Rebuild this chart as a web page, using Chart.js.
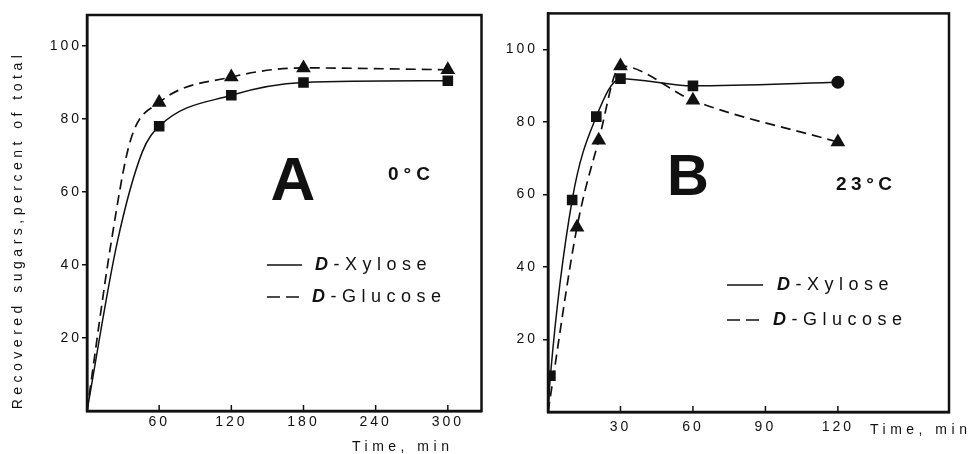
<!DOCTYPE html>
<html>
<head>
<meta charset="utf-8">
<script src="https://cdn.jsdelivr.net/npm/chart.js@4.4.0/dist/chart.umd.min.js"></script>
<style>
  body { margin: 0; background: #fff; }
  #wrapA { position: absolute; left: 0; top: 0; }
  #wrapB { position: absolute; left: 490px; top: 0; }
</style>
</head>
<body>
<div id="wrapA"><canvas id="chartA" width="490" height="454"></canvas></div>
<div id="wrapB"><canvas id="chartB" width="482" height="454"></canvas></div>
<script>
// panel A, 0 °C (unmarked entries are points)
const timeXyloseA = [0, 25, 46, 60, 120, 180, 300];
const xyloseA = [0, 46, 71, 78, 86.5, 90, 90.5];
const markXyloseA = [false, false, false, true, true, true, true];
const timeGlucoseA = [0, 20, 36, 60, 120, 180, 300];
const glucoseA = [0, 46, 74, 84.5, 91.5, 94, 93.5];
const markGlucoseA = [false, false, false, true, true, true, true];
const xTicksA = [60, 120, 180, 240, 300];

// panel B, 23 °C
const timeXyloseB = [0, 1, 10, 20, 30, 60, 120];
const xyloseB = [0, 10, 58.5, 81.5, 92, 90, 91];
const timeGlucoseB = [0, 12, 21, 30, 60, 120];
const glucoseB = [0, 51, 75, 95.5, 86, 74.5];
const xTicksB = [30, 60, 90, 120];

const yTicks = [20, 40, 60, 80, 100];

const FONT = "'Liberation Sans', Arial, sans-serif";
const INK = '#111';

function toPoints(xs, ys) {
  return xs.map((x, i) => ({ x: x, y: ys[i] }));
}

function spacedText(ctx, str, x, y, font, spacing, align, baseline) {
  ctx.save();
  ctx.font = font;
  ctx.letterSpacing = spacing + 'px';
  ctx.textAlign = align || 'left';
  ctx.textBaseline = baseline || 'alphabetic';
  ctx.fillStyle = INK;
  ctx.fillText(str, x, y);
  ctx.restore();
}

function legendRow(ctx, x0, x1, y, dashed, label, tx) {
  ctx.save();
  ctx.strokeStyle = INK;
  ctx.lineWidth = 1.6;
  ctx.setLineDash(dashed ? [13, 6] : []);
  ctx.beginPath();
  ctx.moveTo(x0, y);
  ctx.lineTo(x1, y);
  ctx.stroke();
  ctx.setLineDash([]);
  ctx.fillStyle = INK;
  ctx.textBaseline = 'middle';
  ctx.letterSpacing = '5.5px';
  ctx.font = 'italic bold 18px ' + FONT;
  ctx.fillText('D', tx, y);
  const w = ctx.measureText('D').width;
  ctx.font = '18px ' + FONT;
  ctx.fillText(label, tx + w, y);
  ctx.restore();
}

// box round the plot and x ticks pointing inward
const framePlugin = {
  id: 'frame',
  beforeDraw(chart) {
    chart.ctx.letterSpacing = '3px';
  },
  afterDraw(chart) {
    const ctx = chart.ctx;
    const a = chart.chartArea;
    ctx.save();
    ctx.letterSpacing = '0px';
    ctx.strokeStyle = INK;
    ctx.lineWidth = 2.5;
    ctx.strokeRect(a.left, a.top, a.right - a.left, a.bottom - a.top);
    const xs = chart.scales.x;
    ctx.lineWidth = 1.5;
    xs.ticks.forEach(t => {
      const px = xs.getPixelForValue(t.value);
      ctx.beginPath();
      ctx.moveTo(px, a.bottom);
      ctx.lineTo(px, a.bottom - 6);
      ctx.stroke();
    });
    ctx.restore();
  }
};

function makeScales(xMax, xTicks, yMax, yWidth, xHeight, yPad, xPad) {
  return {
    x: {
      type: 'linear',
      min: 0,
      max: xMax,
      afterBuildTicks: s => { s.ticks = xTicks.map(v => ({ value: v })); },
      afterFit: s => { s.height = xHeight; },
      border: { display: true, color: INK, width: 2.5 },
      grid: { display: true, drawOnChartArea: false, drawTicks: false },
      ticks: { color: INK, font: { family: FONT, size: 14 }, padding: xPad, maxRotation: 0, autoSkip: false }
    },
    y: {
      min: 0,
      max: yMax,
      afterBuildTicks: s => { s.ticks = yTicks.map(v => ({ value: v })); },
      afterFit: s => { s.width = yWidth; },
      border: { display: true, color: INK, width: 2.5 },
      grid: { drawOnChartArea: false, drawTicks: true, tickLength: 5, color: INK, lineWidth: 1.5 },
      ticks: { color: INK, font: { family: FONT, size: 14 }, padding: yPad, autoSkip: false }
    }
  };
}

const commonPlugins = {
  legend: { display: false },
  tooltip: { enabled: false }
};

// Panel A
new Chart(document.getElementById('chartA'), {
  type: 'line',
  data: {
    datasets: [
      {
        label: 'D-Glucose',
        data: toPoints(timeGlucoseA, glucoseA),
        borderColor: INK,
        borderWidth: 1.7,
        borderDash: [10, 6],
        pointStyle: 'triangle',
        pointRadius: markGlucoseA.map(m => m ? 8.5 : 0),
        pointBackgroundColor: INK,
        pointBorderWidth: 0,
        cubicInterpolationMode: 'monotone',
        fill: false
      },
      {
        label: 'D-Xylose',
        data: toPoints(timeXyloseA, xyloseA),
        borderColor: INK,
        borderWidth: 1.5,
        pointStyle: 'rect',
        pointRadius: markXyloseA.map(m => m ? 7.5 : 0),
        pointBackgroundColor: INK,
        pointBorderWidth: 0,
        cubicInterpolationMode: 'monotone',
        fill: false
      }
    ]
  },
  options: {
    responsive: false,
    animation: false,
    layout: { padding: { top: 15, right: 8, left: 0, bottom: 0 } },
    scales: makeScales(328, xTicksA, 108.5, 87, 43, 0, 3),
    plugins: commonPlugins
  },
  plugins: [framePlugin, {
    id: 'annA',
    afterDraw(chart) {
      const ctx = chart.ctx;
      spacedText(ctx, 'A', 293, 200, 'bold 62px ' + FONT, 0, 'center');
      spacedText(ctx, '0°C', 388, 180, 'bold 19px ' + FONT, 5, 'left');
      legendRow(ctx, 267, 302, 265, false, '-Xylose', 315);
      legendRow(ctx, 267, 302, 297, true, '-Glucose', 312);
      spacedText(ctx, 'Time, min', 352, 451, '14px ' + FONT, 4.5, 'left');
      ctx.save();
      ctx.translate(18, 230);
      ctx.rotate(-Math.PI / 2);
      spacedText(ctx, 'Recovered sugars,percent of total', 0, 0, '14px ' + FONT, 4.5, 'center', 'middle');
      ctx.restore();
    }
  }]
});

// Panel B
new Chart(document.getElementById('chartB'), {
  type: 'line',
  data: {
    datasets: [
      {
        label: 'D-Xylose',
        data: toPoints(timeXyloseB, xyloseB),
        borderColor: INK,
        borderWidth: 1.5,
        pointStyle: xyloseB.map((v, i) => i === xyloseB.length - 1 ? 'circle' : 'rect'),
        pointRadius: xyloseB.map((v, i) => i === 0 ? 0 : (i === xyloseB.length - 1 ? 6.5 : 7.5)),
        pointBackgroundColor: INK,
        pointBorderWidth: 0,
        cubicInterpolationMode: 'monotone',
        fill: false
      },
      {
        label: 'D-Glucose',
        data: toPoints(timeGlucoseB, glucoseB),
        borderColor: INK,
        borderWidth: 1.7,
        borderDash: [10, 6],
        pointStyle: 'triangle',
        pointRadius: glucoseB.map((v, i) => i === 0 ? 0 : 8.5),
        pointBackgroundColor: INK,
        pointBorderWidth: 0,
        cubicInterpolationMode: 'monotone',
        fill: false
      }
    ]
  },
  options: {
    responsive: false,
    animation: false,
    layout: { padding: { top: 10, right: 23, left: 0, bottom: 0 } },
    scales: makeScales(166, xTicksB, 110, 58, 42, 5, 7),
    plugins: commonPlugins
  },
  plugins: [framePlugin, {
    id: 'annB',
    afterDraw(chart) {
      const ctx = chart.ctx;
      spacedText(ctx, 'B', 198, 195, 'bold 58px ' + FONT, 0, 'center');
      spacedText(ctx, '23°C', 346, 190, 'bold 19px ' + FONT, 4.5, 'left');
      legendRow(ctx, 237, 273, 285, false, '-Xylose', 287);
      legendRow(ctx, 237, 273, 320, true, '-Glucose', 283);
      spacedText(ctx, 'Time, min', 380, 434, '14px ' + FONT, 4.5, 'left');
    }
  }]
});
</script>
</body>
</html>
